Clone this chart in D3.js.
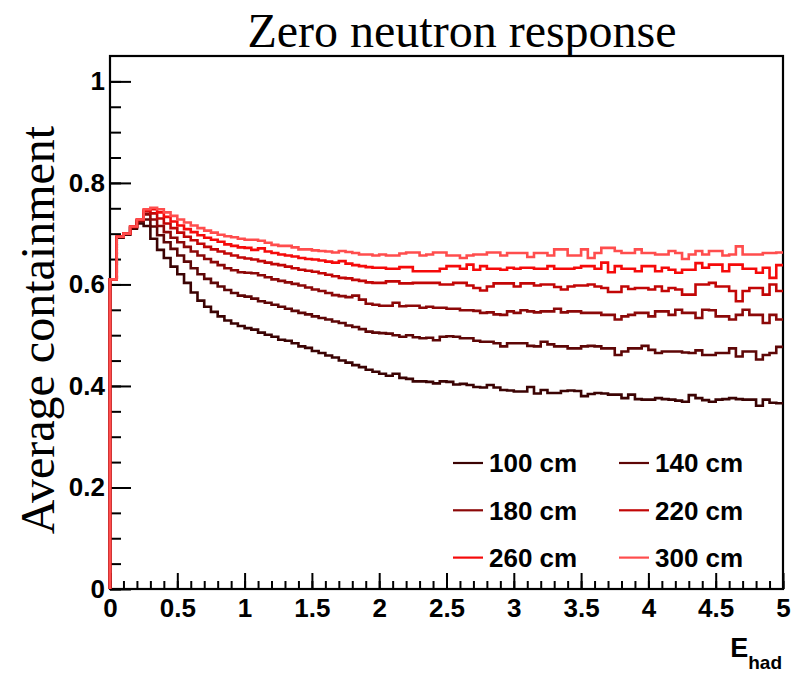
<!DOCTYPE html>
<html>
<head>
<meta charset="utf-8">
<script src="https://cdn.jsdelivr.net/npm/d3@7"></script>
<style>
  body { margin: 0; background: #fff; }
  svg { display: block; }
</style>
</head>
<body>
<div id="vis"></div>
<script>

var width = 791;
var height = 673;

// series labels and colours, darkest (shortest) first
var labels = ['100 cm', '140 cm', '180 cm', '220 cm', '260 cm', '300 cm'];
var colors = ['#3b0303', '#5e0606', '#8c0808', '#c20606', '#f50a0a', '#ff4d4d'];

var binWidth = 0.05;
var xTicks = [0, 0.5, 1, 1.5, 2, 2.5, 3, 3.5, 4, 4.5, 5];
var yTicks = [0, 0.2, 0.4, 0.6, 0.8, 1];

// bin contents, 100 bins of 0.05 from 0 to 5
var s100 = [0.610,0.692,0.698,0.710,0.720,0.715,0.690,0.668,0.652,0.635,0.620,0.603,0.584,0.568,0.556,0.546,0.537,0.529,0.523,0.518,
  0.514,0.511,0.505,0.501,0.497,0.491,0.489,0.484,0.478,0.475,0.469,0.465,0.460,0.456,0.450,0.446,0.441,0.437,0.432,0.428,
  0.424,0.420,0.424,0.416,0.414,0.409,0.409,0.408,0.405,0.409,0.408,0.403,0.404,0.402,0.398,0.397,0.402,0.397,0.392,0.391,
  0.389,0.389,0.398,0.385,0.392,0.386,0.386,0.390,0.391,0.390,0.380,0.384,0.386,0.385,0.383,0.383,0.376,0.383,0.374,0.373,
  0.373,0.376,0.374,0.373,0.371,0.369,0.382,0.376,0.372,0.369,0.373,0.374,0.376,0.374,0.373,0.373,0.361,0.373,0.367,0.366];

var s140 = [0.610,0.693,0.699,0.712,0.724,0.728,0.714,0.697,0.683,0.670,0.657,0.645,0.632,0.620,0.611,0.603,0.596,0.589,0.583,0.578,
  0.576,0.572,0.567,0.564,0.560,0.556,0.552,0.548,0.544,0.541,0.537,0.534,0.531,0.527,0.524,0.519,0.516,0.512,0.507,0.505,
  0.504,0.503,0.500,0.497,0.500,0.496,0.494,0.495,0.490,0.497,0.498,0.497,0.494,0.494,0.489,0.487,0.487,0.484,0.478,0.484,
  0.484,0.484,0.479,0.478,0.487,0.482,0.478,0.478,0.474,0.474,0.478,0.479,0.478,0.474,0.474,0.461,0.468,0.474,0.474,0.479,
  0.471,0.465,0.468,0.468,0.468,0.466,0.465,0.470,0.461,0.461,0.465,0.465,0.474,0.458,0.468,0.468,0.452,0.461,0.465,0.477];

var s180 = [0.610,0.694,0.700,0.713,0.726,0.738,0.728,0.715,0.703,0.692,0.683,0.674,0.665,0.657,0.650,0.644,0.638,0.632,0.628,0.624,
  0.623,0.622,0.618,0.614,0.610,0.607,0.604,0.601,0.598,0.594,0.590,0.587,0.583,0.579,0.577,0.575,0.578,0.570,0.562,0.560,
  0.558,0.558,0.564,0.557,0.558,0.558,0.554,0.556,0.554,0.554,0.552,0.552,0.549,0.549,0.548,0.544,0.545,0.541,0.540,0.547,
  0.544,0.549,0.547,0.545,0.547,0.547,0.552,0.545,0.547,0.547,0.544,0.544,0.544,0.540,0.540,0.531,0.537,0.540,0.544,0.544,
  0.537,0.547,0.547,0.540,0.550,0.544,0.544,0.534,0.550,0.549,0.537,0.537,0.531,0.540,0.550,0.540,0.540,0.524,0.540,0.531];

var s220 = [0.610,0.694,0.700,0.714,0.727,0.744,0.740,0.730,0.720,0.711,0.702,0.694,0.687,0.680,0.674,0.669,0.665,0.661,0.657,0.653,
  0.651,0.649,0.646,0.643,0.640,0.638,0.635,0.632,0.629,0.627,0.625,0.622,0.619,0.616,0.613,0.612,0.609,0.607,0.604,0.603,
  0.603,0.606,0.606,0.602,0.602,0.603,0.603,0.603,0.603,0.600,0.600,0.603,0.603,0.598,0.593,0.588,0.596,0.602,0.602,0.602,
  0.596,0.602,0.602,0.598,0.600,0.600,0.595,0.590,0.596,0.598,0.598,0.600,0.596,0.593,0.585,0.585,0.596,0.591,0.593,0.593,
  0.590,0.596,0.587,0.593,0.590,0.580,0.580,0.600,0.600,0.603,0.596,0.596,0.587,0.567,0.587,0.593,0.593,0.580,0.600,0.587];

var s260 = [0.610,0.694,0.700,0.714,0.728,0.746,0.748,0.742,0.733,0.724,0.716,0.709,0.703,0.697,0.692,0.688,0.684,0.679,0.676,0.673,
  0.672,0.668,0.671,0.665,0.662,0.659,0.657,0.655,0.652,0.650,0.649,0.647,0.645,0.643,0.646,0.641,0.638,0.636,0.634,0.633,
  0.633,0.631,0.631,0.634,0.634,0.626,0.626,0.626,0.626,0.631,0.636,0.636,0.631,0.639,0.629,0.636,0.631,0.631,0.629,0.633,
  0.631,0.633,0.633,0.631,0.631,0.636,0.631,0.631,0.631,0.633,0.636,0.636,0.631,0.643,0.624,0.636,0.631,0.631,0.626,0.636,
  0.636,0.626,0.633,0.629,0.623,0.629,0.629,0.642,0.633,0.639,0.639,0.626,0.639,0.639,0.631,0.631,0.623,0.633,0.613,0.638];

var s300 = [0.610,0.694,0.700,0.714,0.728,0.748,0.751,0.748,0.742,0.735,0.728,0.722,0.716,0.711,0.706,0.702,0.698,0.695,0.693,0.690,
  0.688,0.688,0.686,0.682,0.678,0.676,0.676,0.673,0.669,0.669,0.667,0.666,0.665,0.663,0.666,0.664,0.662,0.659,0.659,0.657,
  0.659,0.657,0.657,0.661,0.663,0.663,0.657,0.659,0.663,0.663,0.657,0.657,0.652,0.657,0.659,0.659,0.663,0.663,0.657,0.662,
  0.662,0.662,0.654,0.662,0.662,0.657,0.669,0.669,0.657,0.657,0.669,0.652,0.662,0.672,0.672,0.666,0.662,0.662,0.669,0.662,
  0.662,0.659,0.659,0.666,0.662,0.650,0.659,0.666,0.659,0.666,0.666,0.657,0.659,0.675,0.659,0.659,0.659,0.662,0.662,0.663];

var series = [s100, s140, s180, s220, s260, s300];

var frame = { left: 110, right: 783, top: 56, bottom: 589 };

var x = d3.scaleLinear().domain([0, 5]).range([frame.left, frame.right]);
var y = d3.scaleLinear().domain([0, 1.05]).range([frame.bottom, frame.top]);

var svg = d3.select('#vis').append('svg')
  .attr('width', width)
  .attr('height', height);

var fmt = d3.format('~g');
var tickFont = 'Liberation Sans, Arial, Helvetica, sans-serif';

// histograms (drawn as steps, starting from the baseline at x = 0)
var line = d3.line()
  .x(function(d) { return x(d[0]); })
  .y(function(d) { return y(d[1]); })
  .curve(d3.curveStepAfter);

function histPoints(vals) {
  var pts = [[0, 0]];
  vals.forEach(function(v, i) { pts.push([i * binWidth, v]); });
  pts.push([vals.length * binWidth, vals[vals.length - 1]]);
  return pts;
}

// frame first so the histograms sit on top of the left axis, like ROOT
svg.append('rect')
  .attr('x', frame.left)
  .attr('y', frame.top)
  .attr('width', frame.right - frame.left)
  .attr('height', frame.bottom - frame.top)
  .attr('fill', 'none')
  .attr('stroke', '#000')
  .attr('stroke-width', 2.2);

// y axis, ticks pointing inwards
var yMinor = d3.range(0, 21).map(function(i) { return i * 0.05; });
svg.append('g')
  .attr('transform', 'translate(' + frame.left + ',0)')
  .call(d3.axisLeft(y).tickValues(yMinor).tickSize(-11).tickFormat(''))
  .call(function(g) { g.select('.domain').remove(); });

svg.append('g')
  .attr('class', 'y-axis')
  .attr('transform', 'translate(' + frame.left + ',0)')
  .call(d3.axisLeft(y).tickValues(yTicks).tickSize(-21).tickPadding(5).tickFormat(fmt))
  .call(function(g) { g.select('.domain').remove(); });

// x axis
var xMinor = d3.range(0, 51).map(function(i) { return i * 0.1; });
svg.append('g')
  .attr('transform', 'translate(0,' + frame.bottom + ')')
  .call(d3.axisBottom(x).tickValues(xMinor).tickSize(-8).tickFormat(''))
  .call(function(g) { g.select('.domain').remove(); });

svg.append('g')
  .attr('class', 'x-axis')
  .attr('transform', 'translate(0,' + frame.bottom + ')')
  .call(d3.axisBottom(x).tickValues(xTicks).tickSize(-16).tickPadding(10).tickFormat(fmt))
  .call(function(g) { g.select('.domain').remove(); });

svg.selectAll('.tick line')
  .attr('stroke', '#000')
  .attr('stroke-width', 2);

svg.selectAll('.x-axis text, .y-axis text')
  .attr('font-family', tickFont)
  .attr('font-weight', 'bold')
  .attr('font-size', 26)
  .attr('fill', '#000');

svg.selectAll('.hist')
  .data(series)
  .enter().append('path')
  .attr('class', 'hist')
  .attr('d', function(d) { return line(histPoints(d)); })
  .attr('fill', 'none')
  .attr('stroke', function(d, i) { return colors[i]; })
  .attr('stroke-width', 2.6);

// title
svg.append('text')
  .attr('x', 462)
  .attr('y', 47)
  .attr('text-anchor', 'middle')
  .attr('font-family', 'Liberation Serif, Times New Roman, serif')
  .attr('font-size', 48)
  .text('Zero neutron response');

// y title
svg.append('text')
  .attr('transform', 'translate(54,330) rotate(-90)')
  .attr('text-anchor', 'middle')
  .attr('font-family', 'Liberation Serif, Times New Roman, serif')
  .attr('font-size', 48)
  .text('Average containment');

// x title, E with subscript had
var xt = svg.append('text')
  .attr('x', 782)
  .attr('y', 657)
  .attr('text-anchor', 'end')
  .attr('font-family', tickFont)
  .attr('font-weight', 'bold')
  .attr('font-size', 27);
xt.append('tspan').text('E');
xt.append('tspan')
  .attr('font-size', 19)
  .attr('dy', 12)
  .text('had');

// legend, two columns of three rows
var legend = svg.selectAll('.legend')
  .data(labels)
  .enter().append('g')
  .attr('class', 'legend')
  .attr('transform', function(d, i) {
    var col = i % 2, row = Math.floor(i / 2);
    return 'translate(' + (453 + col * 166) + ',' + (463 + row * 47.3) + ')';
  });

legend.append('line')
  .attr('x1', 0)
  .attr('x2', 30)
  .attr('stroke', function(d, i) { return colors[i]; })
  .attr('stroke-width', 2.2);

legend.append('text')
  .attr('x', 36)
  .attr('dy', '0.36em')
  .attr('font-family', tickFont)
  .attr('font-weight', 'bold')
  .attr('font-size', 26)
  .text(function(d) { return d; });

</script>
</body>
</html>
